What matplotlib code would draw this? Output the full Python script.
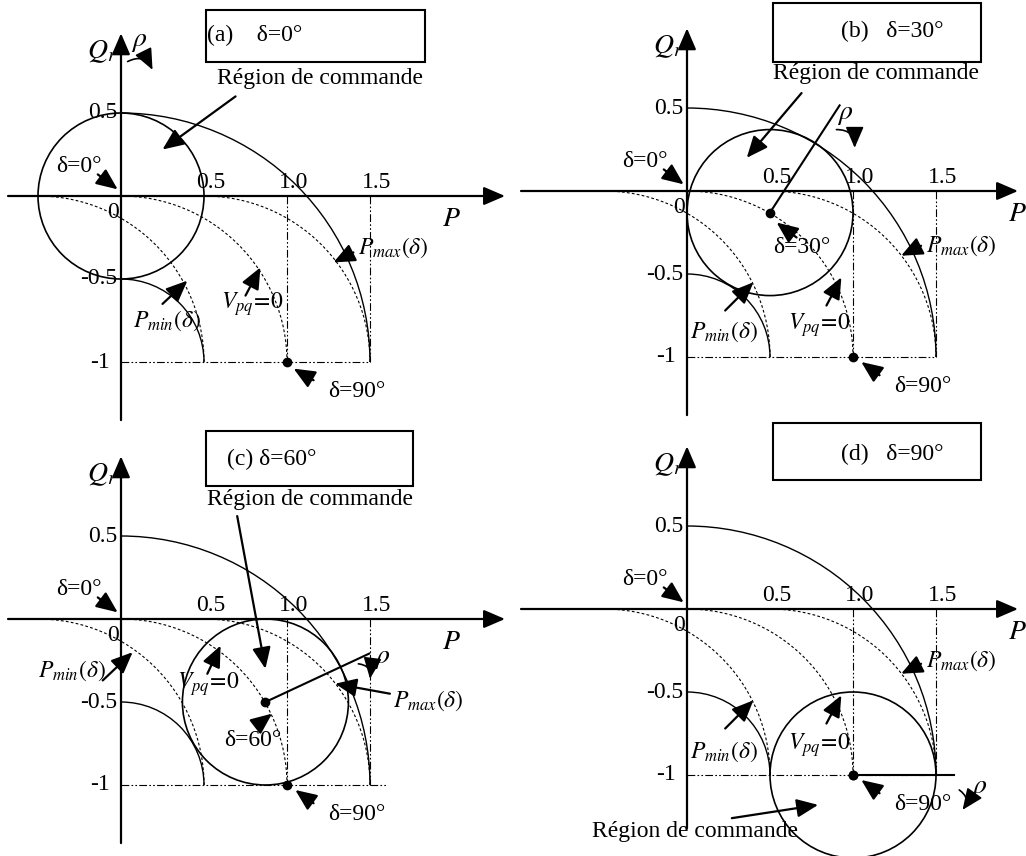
import math
import matplotlib.pyplot as plt
from matplotlib.patches import Arc, Circle, Rectangle, FancyArrowPatch

plt.rcParams['font.family'] = ['Liberation Serif', 'DejaVu Serif']
plt.rcParams['mathtext.fontset'] = 'stix'
plt.rcParams['font.size'] = 17

# operating angle and control-circle centre (P, Qr) for each case
panel_tags = ['(a)', '(b)', '(c)', '(d)']
delta_deg = [0, 30, 60, 90]
centre_p = [0.0, 0.5, 0.87, 1.0]
centre_q = [0.0, -0.13, -0.5, -1.0]
rho = 0.5
rho_angle = [None, 57, 25, 0]
rho_length = [0.0, 0.77, 0.69, 0.61]

# boundary arcs centred on (0, -1)
pmax_radius = 1.5
pmin_radius = 0.5
# loci of left edge / centre (Vpq=0) / right edge of the circle for delta 0..90
locus_p = [-0.5, 0.0, 0.5]
locus_radius = 1.0

x_ticks = [0.5, 1.0, 1.5]
x_tick_labels = ['0.5', '1.0', '1.5']
y_ticks = [0.5, -0.5, -1.0]
y_tick_labels = ['0.5', '-0.5', '-1']

W, H = 1026, 856
S = 166.0  # pixels per unit
fig = plt.figure(figsize=(W / 100, H / 100), dpi=100)

# quadrant (x0, y0) in pixels and origin position in pixels
quads = [(0, 0), (513, 0), (0, 428), (513, 428)]
origins = [(121, 196), (687, 191), (121, 619), (687, 609)]

titles = [f'{panel_tags[0]}    δ={delta_deg[0]}°', f'{panel_tags[1]}   δ={delta_deg[1]}°',
          f'{panel_tags[2]} δ={delta_deg[2]}°', f'{panel_tags[3]}   δ={delta_deg[3]}°']
title_xy = [(0.52, 0.97), (0.93, 0.96), (0.64, 0.96), (0.93, 0.93)]
boxes = [(0.51, 1.83, 0.81, 1.12), (0.52, 1.77, 0.78, 1.13),
         (0.51, 1.76, 0.80, 1.13), (0.52, 1.77, 0.78, 1.12)]
hline_end = [1.5, 1.5, 1.6, 1.5]
yaxis_bottom = [-1.35, -1.35, -1.35, -1.32]

PMAX = r'$P_{max}(\delta)$'
PMIN = r'$P_{min}(\delta)$'
VPQ = r'$V_{pq}\!=\!\mathit{0}$'

# per panel: label text, position, arrow tail, arrow head
notes = [
    [('Région de commande', (0.58, 0.71), (0.69, 0.60), (0.25, 0.28)),
     (PMAX, (1.43, -0.31), (1.40, -0.34), (1.28, -0.40)),
     (VPQ, (0.60, -0.65), (0.75, -0.60), (0.84, -0.43)),
     (PMIN, (0.07, -0.75), (0.25, -0.65), (0.40, -0.51)),
     ('δ=90°', (1.25, -1.18), (1.16, -1.11), (1.04, -1.04))],
    [('Région de commande', (0.52, 0.71), (0.69, 0.59), (0.36, 0.20)),
     ('δ=30°', (0.52, -0.34), (0.66, -0.28), (0.54, -0.19)),
     (PMAX, (1.44, -0.33), (1.41, -0.33), (1.29, -0.39)),
     (VPQ, (0.61, -0.81), (0.84, -0.69), (0.93, -0.52)),
     (PMIN, (0.02, -0.85), (0.23, -0.72), (0.40, -0.55)),
     ('δ=90°', (1.25, -1.18), (1.16, -1.11), (1.05, -1.03))],
    [('Région de commande', (0.52, 0.72), (0.70, 0.62), (0.87, -0.30)),
     (PMAX, (1.64, -0.49), (1.62, -0.45), (1.29, -0.39)),
     (VPQ, (0.34, -0.39), (0.52, -0.33), (0.60, -0.16)),
     (PMIN, (-0.50, -0.31), (-0.11, -0.37), (0.07, -0.20)),
     ('δ=60°', (0.62, -0.73), (0.82, -0.64), (0.91, -0.57)),
     ('δ=90°', (1.25, -1.18), (1.16, -1.11), (1.05, -1.03))],
    [('Région de commande', (-0.57, -1.34), (0.27, -1.26), (0.79, -1.18)),
     (PMAX, (1.44, -0.31), (1.41, -0.33), (1.29, -0.39)),
     (VPQ, (0.61, -0.82), (0.84, -0.69), (0.93, -0.52)),
     (PMIN, (0.02, -0.86), (0.23, -0.72), (0.40, -0.55)),
     ('δ=90°', (1.25, -1.18), (1.16, -1.11), (1.05, -1.03))],
]
# curved rho arrows: label position, tail, head, curvature
rho_marks = [((0.11, 0.93), (0.04, 0.81), (0.19, 0.76), -0.5),
             ((0.95, 0.46), (0.90, 0.37), (1.01, 0.26), -0.5),
             ((1.57, -0.24), (1.43, -0.27), (1.50, -0.36), -0.5),
             ((1.76, -1.08), (1.64, -1.09), (1.66, -1.21), -0.5)]

arrow_kw = dict(arrowstyle='-|>,head_length=0.65,head_width=0.28',
                color='k', lw=1.6, mutation_scale=20, shrinkA=0, shrinkB=0)

for i in range(4):
    qx, qy = quads[i]
    ox, oy = origins[i]
    ax = fig.add_axes([qx / W, 1 - (qy + 428) / H, 513 / W, 428 / H])
    ax.set_xlim((qx - ox) / S, (qx + 513 - ox) / S)
    ax.set_ylim((oy - qy - 428) / S, (oy - qy) / S)
    ax.axis('off')

    # axes with arrow heads
    ax.annotate('', xy=((qx + 505 - ox) / S, 0), xytext=((qx + 8 - ox) / S, 0),
                arrowprops=arrow_kw, annotation_clip=False)
    ax.annotate('', xy=(0, 0.98), xytext=(0, yaxis_bottom[i]),
                arrowprops=arrow_kw, annotation_clip=False)

    # boundary curves
    ax.add_patch(Arc((0, -1), 2 * pmax_radius, 2 * pmax_radius, theta1=0, theta2=90,
                     color='k', lw=1.0))
    ax.add_patch(Arc((0, -1), 2 * pmin_radius, 2 * pmin_radius, theta1=0, theta2=90,
                     color='k', lw=1.0))
    for lp in locus_p:
        ax.add_patch(Arc((lp, -1), 2 * locus_radius, 2 * locus_radius, theta1=0, theta2=90,
                         color='k', lw=0.8, ls=(0, (2.5, 2))))

    dashdot = (0, (7, 2, 1.5, 2, 1.5, 2))
    ax.plot([1.0, 1.0], [0, -1], color='k', lw=0.8, ls=dashdot)
    ax.plot([1.5, 1.5], [0, -1], color='k', lw=0.8, ls=dashdot)
    ax.plot([0, hline_end[i]], [-1, -1], color='k', lw=0.8, ls=dashdot)

    # control region
    cp, cq = centre_p[i], centre_q[i]
    ax.add_patch(Circle((cp, cq), rho, fill=False, color='k', lw=1.2))
    ax.plot(1.0, -1.0, 'ko', ms=6)
    if rho_angle[i] is not None:
        ax.plot(cp, cq, 'ko', ms=6)
        a = math.radians(rho_angle[i])
        ax.plot([cp, cp + rho_length[i] * math.cos(a)],
                [cq, cq + rho_length[i] * math.sin(a)], color='k', lw=1.5)

    # tick labels
    for xv, xl in zip(x_ticks, x_tick_labels):
        ax.text(xv + 0.04, 0.08, xl, ha='center', va='center')
    for yv, yl in zip(y_ticks, y_tick_labels):
        ax.text(-0.02 if yl != '-1' else -0.07, yv, yl, ha='right', va='center')
    ax.text(-0.05, -0.10, '0', ha='center', va='center')
    ax.text(-0.025, 0.87, r'$Q_r$', ha='right', va='center', fontsize=20)
    ax.text(1.99, -0.14, r'$P$', ha='center', va='center', fontsize=20)

    # delta = 0 marker at the origin
    ax.text(-0.39, 0.18, 'δ=0°', ha='left', va='center')
    ax.annotate('', xy=(-0.02, 0.04), xytext=(-0.14, 0.13), arrowprops=arrow_kw)

    # title box
    bx0, bx1, by0, by1 = boxes[i]
    ax.add_patch(Rectangle((bx0, by0), bx1 - bx0, by1 - by0, fill=False,
                           color='k', lw=1.5, clip_on=False))
    ax.text(title_xy[i][0], title_xy[i][1], titles[i], ha='left', va='center')

    for txt, pos, tail, head in notes[i]:
        ax.text(pos[0], pos[1], txt, ha='left', va='center', clip_on=False)
        ax.annotate('', xy=head, xytext=tail, arrowprops=arrow_kw)

    rpos, rtail, rhead, rad = rho_marks[i]
    ax.text(rpos[0], rpos[1], r'$\rho$', ha='center', va='center', fontsize=20)
    ax.add_patch(FancyArrowPatch(rtail, rhead, connectionstyle=f'arc3,rad={rad}',
                                 arrowstyle='-|>,head_length=0.65,head_width=0.28',
                                 mutation_scale=20, color='k', lw=1.2,
                                 shrinkA=0, shrinkB=0))

fig.savefig('out.png', dpi=100)
